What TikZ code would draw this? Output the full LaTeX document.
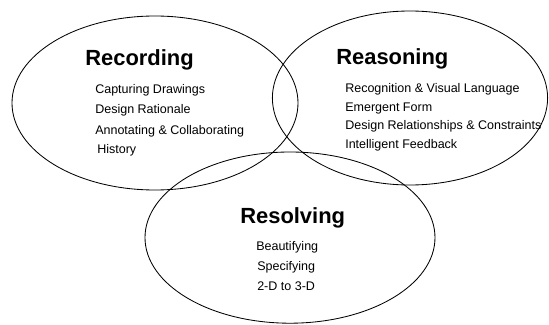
\documentclass[tikz,border=0pt]{standalone}
\usepackage{fontspec}
\setmainfont{Liberation Sans}
\usepackage{tikz}

\begin{document}
\begin{tikzpicture}
				\tikzset{
						area/.style={draw, line width=0.6pt},
						heading/.style={anchor=base west, inner sep=0pt, font=\fontsize{15.6}{18}\selectfont\bfseries},
						topic/.style={anchor=base west, inner sep=0pt, font=\fontsize{8.9}{11}\selectfont}
				}
				\useasboundingbox (0,0) rectangle (13.725,8.1);
				
				%% THE THREE AREAS
				\draw[area] (3.875,5.525) ellipse (3.575 and 2.175);
				\draw[area] (10.25,5.65) ellipse (3.44 and 2.175);
				\draw[area] (7.25,2.16) ellipse (3.625 and 2.14);
				
				%% RECORDING
				\node[heading] (Rec) at (2.125,6.475) {Recording};
				\node[topic] (RecA) at (2.375,5.775) {Capturing Drawings};
				\node[topic] (RecB) at (2.375,5.26) {Design Rationale};
				\node[topic] (RecC) at (2.375,4.75) {Annotating \& Collaborating};
				\node[topic] (RecD) at (2.425,4.26) {History};
				
				%% REASONING
				\node[heading] (Rea) at (8.4,6.5) {Reasoning};
				\node[topic] (ReaA) at (8.625,5.8) {Recognition \& Visual Language};
				\node[topic] (ReaB) at (8.625,5.325) {Emergent Form};
				\node[topic] (ReaC) at (8.625,4.875) {Design Relationships \& Constraints};
				\node[topic] (ReaD) at (8.625,4.4) {Intelligent Feedback};
				
				%% RESOLVING
				\node[heading] (Res) at (6.0,2.525) {Resolving};
				\node[topic] (ResA) at (6.4,1.85) {Beautifying};
				\node[topic] (ResB) at (6.425,1.35) {Specifying};
				\node[topic] (ResC) at (6.425,0.85) {2-D to 3-D};
				
\end{tikzpicture}
\end{document}
